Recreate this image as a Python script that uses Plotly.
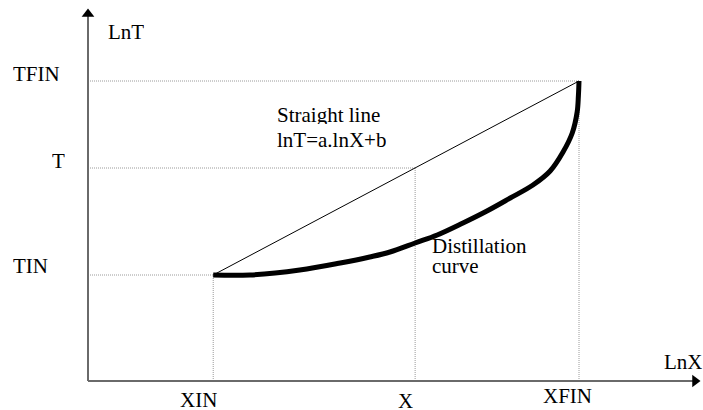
import plotly.graph_objects as go

# Characteristic points (log scale, arbitrary units)
XIN, X, XFIN = 2.04, 5.33, 8.0
TIN, T, TFIN = 2.12, 4.26, 6.0

# Distillation curve read point by point
curve_x = [2.04, 2.64, 3.45, 4.11, 4.59, 4.92, 5.33, 5.69, 6.11, 6.50, 6.88, 7.25, 7.53, 7.74, 7.89, 7.97, 7.99, 8.0]
curve_y = [2.12, 2.12, 2.22, 2.36, 2.48, 2.58, 2.76, 2.92, 3.16, 3.40, 3.66, 3.92, 4.20, 4.58, 4.96, 5.38, 5.70, 6.0]

# Axis extents
X_AXIS_END = 10.0
Y_AXIS_END = 7.44

W, H = 703, 410
FONT = "Liberation Serif"
AXIS_COLOR = "#6a6a6a"
DOT_COLOR = "#9a9a9a"

fig = go.Figure()

def seg(x0, y0, x1, y1, color, width, dash="solid"):
    fig.add_trace(go.Scatter(x=[x0, x1], y=[y0, y1], mode="lines",
                             line=dict(color=color, width=width, dash=dash),
                             hoverinfo="skip"))

# dotted guide lines
for (x0, y0, x1, y1) in [(0, TFIN, XFIN, TFIN), (0, T, X, T), (0, TIN, XIN, TIN),
                         (XIN, 0, XIN, TIN), (X, 0, X, T), (XFIN, 0, XFIN, TFIN)]:
    seg(x0, y0, x1, y1, DOT_COLOR, 1, "1px,1px")

# axes
seg(0, 0, X_AXIS_END - 0.1, 0, AXIS_COLOR, 2)
seg(0, 0, 0, Y_AXIS_END - 0.1, AXIS_COLOR, 2)
fig.add_trace(go.Scatter(x=[X_AXIS_END - 0.11], y=[0], mode="markers",
                         marker=dict(symbol="triangle-right", size=11, color="black"),
                         hoverinfo="skip"))
fig.add_trace(go.Scatter(x=[0], y=[Y_AXIS_END - 0.1], mode="markers",
                         marker=dict(symbol="triangle-up", size=11, color="black"),
                         hoverinfo="skip"))

# straight line lnT = a.lnX + b
seg(XIN, TIN, XFIN, TFIN, "black", 1)

# distillation curve
fig.add_trace(go.Scatter(x=curve_x, y=curve_y, mode="lines",
                         line=dict(color="black", width=5, shape="spline", smoothing=1.0),
                         hoverinfo="skip"))

def label(text, px, py):
    fig.add_annotation(text=text, x=px / W, y=1 - py / H, xref="paper", yref="paper",
                       xanchor="left", yanchor="middle", showarrow=False,
                       height=19, valign="middle", borderpad=0,
                       font=dict(size=21, color="black"))

label("LnT", 107, 32)
label("TFIN", 12, 74)
label("T", 51, 160)
label("TIN", 12, 265)
label("XIN", 179, 399)
label("X", 397, 400)
label("XFIN", 542, 395)
label("LnX", 663, 361)
label("Straight line", 276, 114)
label("lnT=a.lnX+b", 276, 139)
label("Distillation", 431, 245)
label("curve", 431, 265)

fig.update_layout(
    width=W, height=H,
    margin=dict(l=0, r=0, t=0, b=0),
    font=dict(family=FONT, size=21, color="black"),
    paper_bgcolor="white", plot_bgcolor="white",
    showlegend=False, hovermode=False,
    xaxis=dict(range=[-88 / 61.375, (W - 88) / 61.375], visible=False),
    yaxis=dict(range=[(381 - H) / 50, 381 / 50], visible=False),
)

fig.write_html("out.html")
